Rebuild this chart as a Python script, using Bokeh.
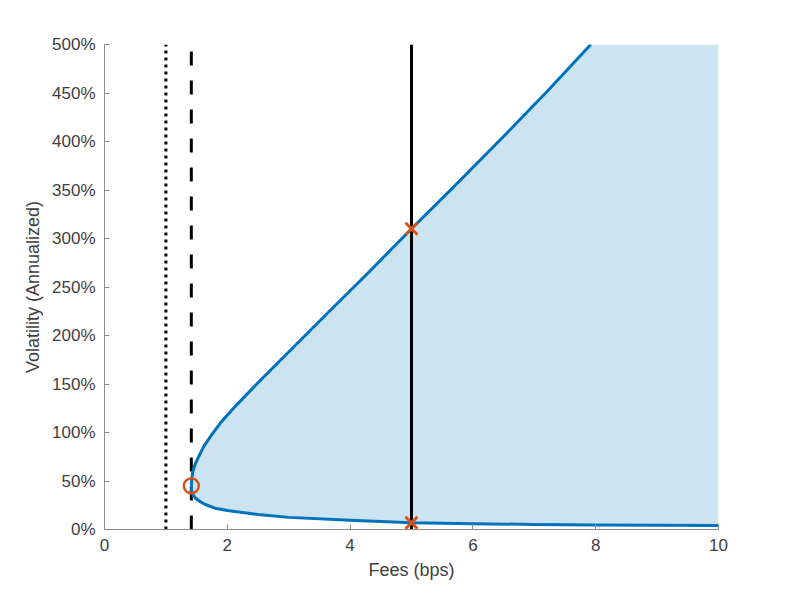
from bokeh.plotting import figure
from bokeh.models import Range1d, PrintfTickFormatter, FixedTicker
from bokeh.embed import file_html
from bokeh.resources import INLINE

# Upper branch of the boundary (fees in bps, volatility in %)
upper_fees = [1.414, 1.42, 1.44, 1.48, 1.54, 1.62, 1.75, 1.89, 2.16, 2.48, 3.0, 3.68, 4.3, 5.0, 5.7, 6.45, 7.2, 7.92]
upper_vol = [45, 52, 60, 68, 76, 86, 98, 110, 129, 150, 183, 226, 265, 310, 354, 402, 451, 500]

# Lower branch of the boundary
lower_fees = [1.414, 1.42, 1.44, 1.48, 1.55, 1.65, 1.8, 2.0, 2.5, 3.0, 4.0, 5.0, 6.0, 7.0, 8.0, 9.0, 10.0]
lower_vol = [45, 40, 36, 32.5, 29, 25.5, 22, 19.5, 15.5, 12.5, 9.5, 7, 6, 5.2, 4.7, 4.3, 4.0]

# Reference lines
dotted_fee = 1.0
dashed_fee = 1.414
solid_fee = 5.0

# Markers
circle_fee = [1.414]
circle_vol = [45]
cross_fees = [5.0, 5.0]
cross_vol = [310, 7]

x_ticks = [0, 2, 4, 6, 8, 10]
y_ticks = [0, 50, 100, 150, 200, 250, 300, 350, 400, 450, 500]
x_max = 10
y_max = 500

BLUE = "#0072BD"
ORANGE = "#D95319"
FILL = "#cce3f2"
TEXT = "#404040"
AXIS = "#8c8c8c"

p = figure(output_backend="svg", toolbar_location=None,
           x_range=Range1d(0, x_max), y_range=Range1d(0, y_max),
           frame_width=614, frame_height=485)
p.min_border_left = 104
p.min_border_right = 67
p.min_border_top = 44
p.min_border_bottom = 57
p.outline_line_color = None
p.xgrid.visible = False
p.ygrid.visible = False
p.background_fill_color = "white"
p.border_fill_color = "white"

# Shaded region: lower branch out to the right edge, then back along the top and the upper branch
poly_x = lower_fees + [x_max] + upper_fees[::-1]
poly_y = lower_vol + [y_max] + upper_vol[::-1]
p.patch(poly_x, poly_y, fill_color=FILL, line_color=None)

# Vertical reference lines
p.line([dotted_fee, dotted_fee], [0, y_max], line_color="black", line_width=3, line_dash="3 4")
p.line([dashed_fee, dashed_fee], [0, y_max], line_color="black", line_width=3, line_dash="14 15")
p.line([solid_fee, solid_fee], [0, y_max], line_color="black", line_width=3)

# Boundary curves
p.line(upper_fees, upper_vol, line_color=BLUE, line_width=3, line_join="round")
p.line(lower_fees, lower_vol, line_color=BLUE, line_width=3, line_join="round")

# Markers
p.scatter(circle_fee, circle_vol, marker="circle", size=15, fill_color=None,
          line_color=ORANGE, line_width=2.5)
p.scatter(cross_fees, cross_vol, marker="x", size=17, line_color=ORANGE, line_width=3)

# Axes
p.xaxis.ticker = FixedTicker(ticks=x_ticks)
p.yaxis.ticker = FixedTicker(ticks=y_ticks)
p.yaxis.formatter = PrintfTickFormatter(format="%d%%")
p.xaxis.axis_label = "Fees (bps)"
p.yaxis.axis_label = "Volatility (Annualized)"
for ax in (p.xaxis, p.yaxis):
    ax.axis_line_color = AXIS
    ax.axis_line_width = 1
    ax.major_tick_line_color = AXIS
    ax.major_tick_in = 5
    ax.major_tick_out = 0
    ax.minor_tick_line_color = None
    ax.major_label_text_font = "Liberation Sans"
    ax.major_label_text_font_size = "17px"
    ax.major_label_text_color = TEXT
    ax.axis_label_text_font = "Liberation Sans"
    ax.axis_label_text_font_size = "18px"
    ax.axis_label_text_font_style = "normal"
    ax.axis_label_text_color = TEXT
p.xaxis.major_label_standoff = 9
p.yaxis.major_label_standoff = 9
p.xaxis.axis_label_standoff = 6
p.yaxis.axis_label_standoff = 6

open("out.html", "w").write(file_html(p, INLINE))
